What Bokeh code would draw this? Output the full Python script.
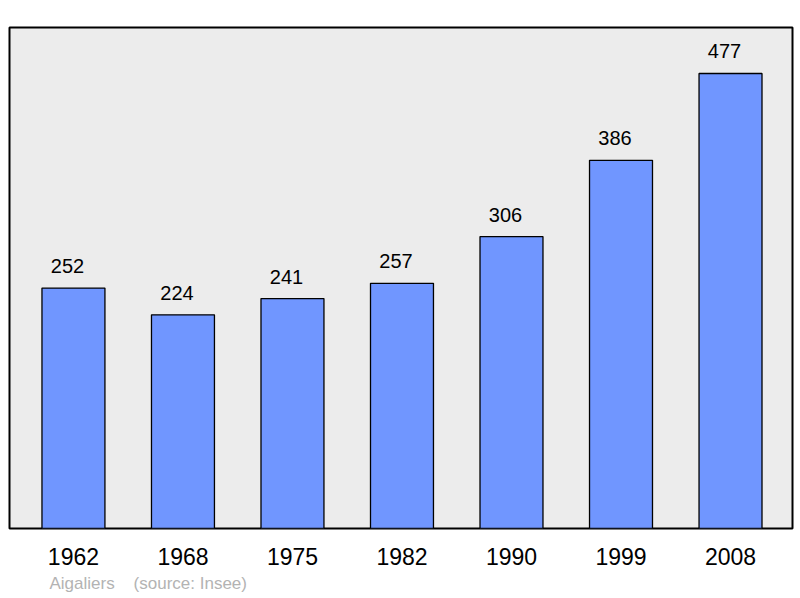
from bokeh.plotting import figure
from bokeh.models import ColumnDataSource, Title
from bokeh.core.properties import value
from bokeh.embed import file_html
from bokeh.resources import INLINE

years = ["1962", "1968", "1975", "1982", "1990", "1999", "2008"]
population = [252, 224, 241, 257, 306, 386, 477]
title_text = "Aigaliers\u00a0\u00a0\u00a0\u00a0(source: Insee)"

idx = list(range(len(years)))
src = ColumnDataSource(dict(x=idx, top=population, lab=[str(v) for v in population]))

FONT = "Liberation Sans"

p = figure(width=800, height=598, output_backend="svg", toolbar_location=None,
           x_range=(-0.584, 6.566), y_range=(0, 525.2),
           min_border_left=9, min_border_right=8, min_border_top=27, min_border_bottom=70)
p.background_fill_color = "#ececec"
p.border_fill_color = "white"
p.outline_line_color = "black"
p.outline_line_width = 2
p.grid.visible = False
p.yaxis.visible = False

p.vbar(x="x", top="top", bottom=0, width=0.575, source=src,
       fill_color="#7096ff", line_color="black", line_width=1.3)
p.text(x="x", y="top", text="lab", source=src, text_align="center", text_baseline="middle",
       x_offset=-6, y_offset=-22, text_font=value(FONT), text_font_size="20px",
       text_color="black")

ax = p.xaxis[0]
ax.ticker = idx
ax.major_label_overrides = {i: y for i, y in zip(idx, years)}
ax.axis_line_color = None
ax.major_tick_line_color = None
ax.minor_tick_line_color = None
ax.major_tick_out = 0
ax.major_label_standoff = 19
ax.major_label_text_font = FONT
ax.major_label_text_font_size = "23px"
ax.major_label_text_color = "black"

p.add_layout(Title(text=title_text, align="left", offset=40, standoff=9,
                   text_font=FONT, text_font_size="17px", text_font_style="normal",
                   text_color="#b3b3b3"), "below")

open("out.html", "w").write(file_html(p, INLINE))
